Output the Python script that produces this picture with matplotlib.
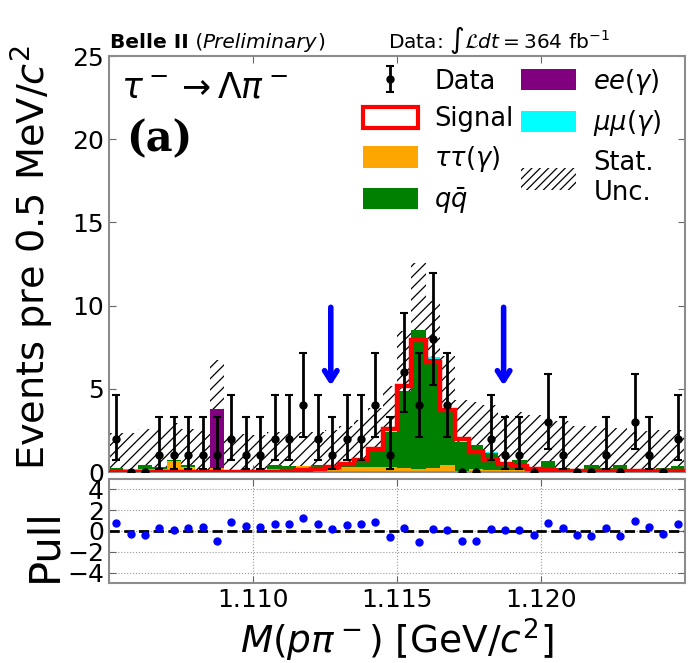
import numpy as np
import matplotlib
matplotlib.use("Agg")
import matplotlib.pyplot as plt
from matplotlib.patches import Patch

# ---------------- data ----------------
x_min, x_max = 1.105, 1.125
n_bins = 40

data_counts = [2, 0, 0, 1, 1, 1, 1, 1, 2, 1,
               1, 2, 2, 4, 2, 1, 2, 2, 4, 1,
               6, 4, 8, 4, 0, 0, 2, 1, 1, 0,
               3, 1, 0, 0, 1, 0, 3, 1, 0, 2]

tautau = [0.15, 0.08, 0.2, 0.2, 0.65, 0.3, 0.05, 0.26, 0.05, 0.05,
          0.1, 0.2, 0.2, 0.34, 0.2, 0.15, 0.3, 0.3, 0.3, 0.3,
          0.24, 0.2, 0.24, 0.4, 0.05, 0.2, 0.15, 0.15, 0.15, 0.1,
          0.15, 0.15, 0.1, 0.15, 0.15, 0.15, 0.1, 0.1, 0.15, 0.15]

qqbar = [0.12, 0.0, 0.2, 0.1, 0.08, 0.1, 0.1, 0.0, 0.0, 0.05,
         0.05, 0.2, 0.15, 0.05, 0.2, 0.2, 0.15, 0.3, 0.97, 2.1,
         4.66, 8.35, 6.56, 3.2, 1.75, 1.4, 1.0, 0.35, 0.55, 0.15,
         0.5, 0.1, 0.05, 0.3, 0.1, 0.3, 0.05, 0.05, 0.1, 0.2]

ee = [0, 0, 0, 0, 0, 0, 0, 3.5, 0, 0,
      0, 0, 0, 0, 0, 0, 0, 0, 0, 0,
      0, 0, 0, 0, 0, 0, 0, 0, 0, 0,
      0, 0, 0, 0, 0, 0, 0, 0, 0, 0]

mumu = [0, 0.08, 0, 0, 0, 0, 0, 0, 0, 0,
        0, 0, 0, 0, 0, 0, 0, 0, 0, 0,
        0, 0, 0.1, 0, 0, 0, 0.08, 0, 0, 0,
        0, 0, 0, 0, 0, 0, 0, 0, 0, 0]

signal = [0.02, 0.02, 0.02, 0.02, 0.02, 0.02, 0.02, 0.02, 0.02, 0.02,
          0.03, 0.03, 0.04, 0.1, 0.2, 0.3, 0.46, 0.7, 1.4, 2.6,
          5.2, 7.95, 6.6, 3.7, 2.0, 1.2, 0.75, 0.5, 0.35, 0.2,
          0.12, 0.08, 0.06, 0.05, 0.05, 0.05, 0.04, 0.04, 0.04, 0.04]

stat_unc = [2.1, 2.2, 2.2, 2.3, 2.2, 2.2, 2.3, 3.0, 2.2, 2.2,
            2.1, 2.0, 2.0, 2.0, 2.0, 2.2, 2.3, 2.5, 2.6, 2.8,
            3.6, 4.0, 3.4, 3.4, 2.5, 2.6, 2.8, 2.9, 2.9, 3.2,
            2.6, 2.8, 2.6, 2.3, 2.4, 2.2, 2.3, 2.3, 2.3, 2.2]

pulls = [0.75, -0.26, -0.42, 0.29, 0.13, 0.26, 0.39, -0.98, 0.85, 0.49,
         0.39, 0.65, 0.72, 1.24, 0.65, 0.23, 0.62, 0.65, 0.91, -0.59,
         0.26, -1.1, 0.23, 0.13, -0.98, -0.94, 0.23, 0.13, 0.07, -0.36,
         0.81, 0.29, -0.36, -0.46, 0.29, -0.46, 0.98, 0.42, -0.29, 0.72]

# Garwood 68% Poisson intervals
garwood_lo = {0: 0.0, 1: 0.173, 2: 0.708, 3: 1.367, 4: 2.086, 5: 2.840, 6: 3.620, 7: 4.419, 8: 5.232}
garwood_hi = {0: 1.841, 1: 3.300, 2: 4.638, 3: 5.918, 4: 7.163, 5: 8.382, 6: 9.584, 7: 10.77, 8: 11.95}

arrow_x = [1.1127, 1.1187]
arrow_top, arrow_tip = 9.9, 5.2

x_ticks = [1.110, 1.115, 1.120]
y_ticks_main = [0, 5, 10, 15, 20, 25]
y_ticks_pull = [-4, -2, 0, 2, 4]

# ---------------- figure ----------------
plt.rcParams["hatch.linewidth"] = 0.9
fig = plt.figure(figsize=(7.0, 6.63), dpi=100)
ax = fig.add_axes([0.1557, 0.288, 0.823, 0.6275])
axp = fig.add_axes([0.1557, 0.1207, 0.823, 0.1568], sharex=ax)

edges = np.linspace(x_min, x_max, n_bins + 1)
centers = 0.5 * (edges[:-1] + edges[1:])
bw = edges[1] - edges[0]

tt = np.array(tautau)
qq = np.array(qqbar)
eea = np.array(ee)
mm = np.array(mumu)
total = tt + qq + eea + mm
unc = np.array(stat_unc)
lo_band = np.clip(total - unc, 0, None)
hi_band = total + unc

# stat unc band (under the stack)
ax.bar(centers, hi_band - lo_band, bottom=lo_band, width=bw, fill=False,
       hatch="///", edgecolor="black", linewidth=0, zorder=1)

# stacked backgrounds
bottom = np.zeros(n_bins)
for vals, col in [(tt, "orange"), (qq, "green"), (eea, "purple"), (mm, "cyan")]:
    ax.bar(centers, vals, bottom=bottom, width=bw, color=col, linewidth=0, zorder=2)
    bottom = bottom + vals

# signal
ax.stairs(signal, edges, color="red", linewidth=3.2, zorder=3)

# data
d = np.array(data_counts)
err_lo = np.array([d_i - garwood_lo[d_i] for d_i in d])
err_hi = np.array([garwood_hi[d_i] - d_i for d_i in d])
nz = d > 0
eb = ax.errorbar(centers[nz], d[nz], yerr=[err_lo[nz], err_hi[nz]], fmt="o", color="black",
                 markersize=5, elinewidth=2, capsize=3, capthick=1.5, zorder=5)
ax.plot(centers[~nz], d[~nz], "o", color="black", markersize=5, zorder=5)

# arrows
for xa in arrow_x:
    ax.annotate("", xy=(xa, arrow_tip), xytext=(xa, arrow_top),
                arrowprops=dict(arrowstyle="->,head_length=0.7,head_width=0.45",
                                color="blue", lw=4, shrinkA=0, shrinkB=0), zorder=6)

ax.set_xlim(x_min, x_max)
ax.set_ylim(0, 25)
ax.set_yticks(y_ticks_main)
ax.set_xticks(x_ticks)
ax.tick_params(axis="both", direction="in", top=True, right=True, labelsize=18, length=5,
               color="0.4")
ax.tick_params(axis="x", labelbottom=False)
for sp in ax.spines.values():
    sp.set_color("0.55")
    sp.set_linewidth(1.5)
ax.set_ylabel(r"Events pre 0.5 MeV/$c^2$", fontsize=27.5)
ax.yaxis.set_label_coords(-0.092, 0.515)

# header texts
renderer = fig.canvas.get_renderer()
y_head = 0.928
x_cur = 0.157
for txt, kw in [("Belle II", dict(fontweight="bold")),
                (" (", dict()),
                ("Preliminary", dict(style="italic")),
                (")", dict())]:
    t = fig.text(x_cur, y_head, txt, fontsize=14.5, ha="left", va="baseline", **kw)
    bb = t.get_window_extent(renderer=renderer)
    x_cur += bb.width / fig.bbox.width
fig.text(0.554, y_head, r"Data: $\int\mathcal{L}dt = 364$ fb$^{-1}$", fontsize=14.5,
         ha="left", va="baseline")

ax.text(0.020, 0.925, r"$\tau^- \rightarrow \Lambda\pi^-$", transform=ax.transAxes,
        fontsize=25, ha="left", va="center")
ax.text(0.03, 0.80, "(a)", transform=ax.transAxes, fontsize=30, fontweight="bold",
        family="DejaVu Serif", ha="left", va="center")

# legend
handles = [eb,
           Patch(facecolor="white", edgecolor="red", linewidth=3),
           Patch(facecolor="orange", edgecolor="none"),
           Patch(facecolor="green", edgecolor="none"),
           Patch(facecolor="purple", edgecolor="none"),
           Patch(facecolor="cyan", edgecolor="none"),
           Patch(facecolor="none", edgecolor="black", hatch="////", linewidth=0)]
labels = ["Data", "Signal", r"$\tau\tau(\gamma)$", r"$q\bar{q}$",
          r"$ee(\gamma)$", r"$\mu\mu(\gamma)$", "Stat.\nUnc."]
ax.legend(handles, labels, ncol=2, loc="upper left", bbox_to_anchor=(0.40, 1.03),
          frameon=False, fontsize=18.5, handlelength=2.14, handleheight=0.9,
          columnspacing=0.3, labelspacing=0.45, handletextpad=0.66)

# pull panel
axp.plot(centers, pulls, "o", color="blue", markersize=5, zorder=3)
axp.axhline(0, color="black", linestyle="--", linewidth=2, zorder=2)
axp.set_ylim(-5, 5)
axp.set_yticks(y_ticks_pull)
axp.set_xticks(x_ticks)
axp.set_xticklabels([f"{t:.3f}" for t in x_ticks])
axp.grid(True, linestyle=":", color="0.6", linewidth=0.8)
axp.tick_params(axis="both", direction="in", top=True, right=True, labelsize=18, length=5,
                color="0.4")
for sp in axp.spines.values():
    sp.set_color("0.55")
    sp.set_linewidth(1.5)
axp.set_ylabel("Pull", fontsize=30)
axp.yaxis.set_label_coords(-0.075, 0.36)
axp.set_xlabel(r"$M(p\pi^-)$ [GeV/$c^2$]", fontsize=27)

fig.savefig("out.png", dpi=100)
